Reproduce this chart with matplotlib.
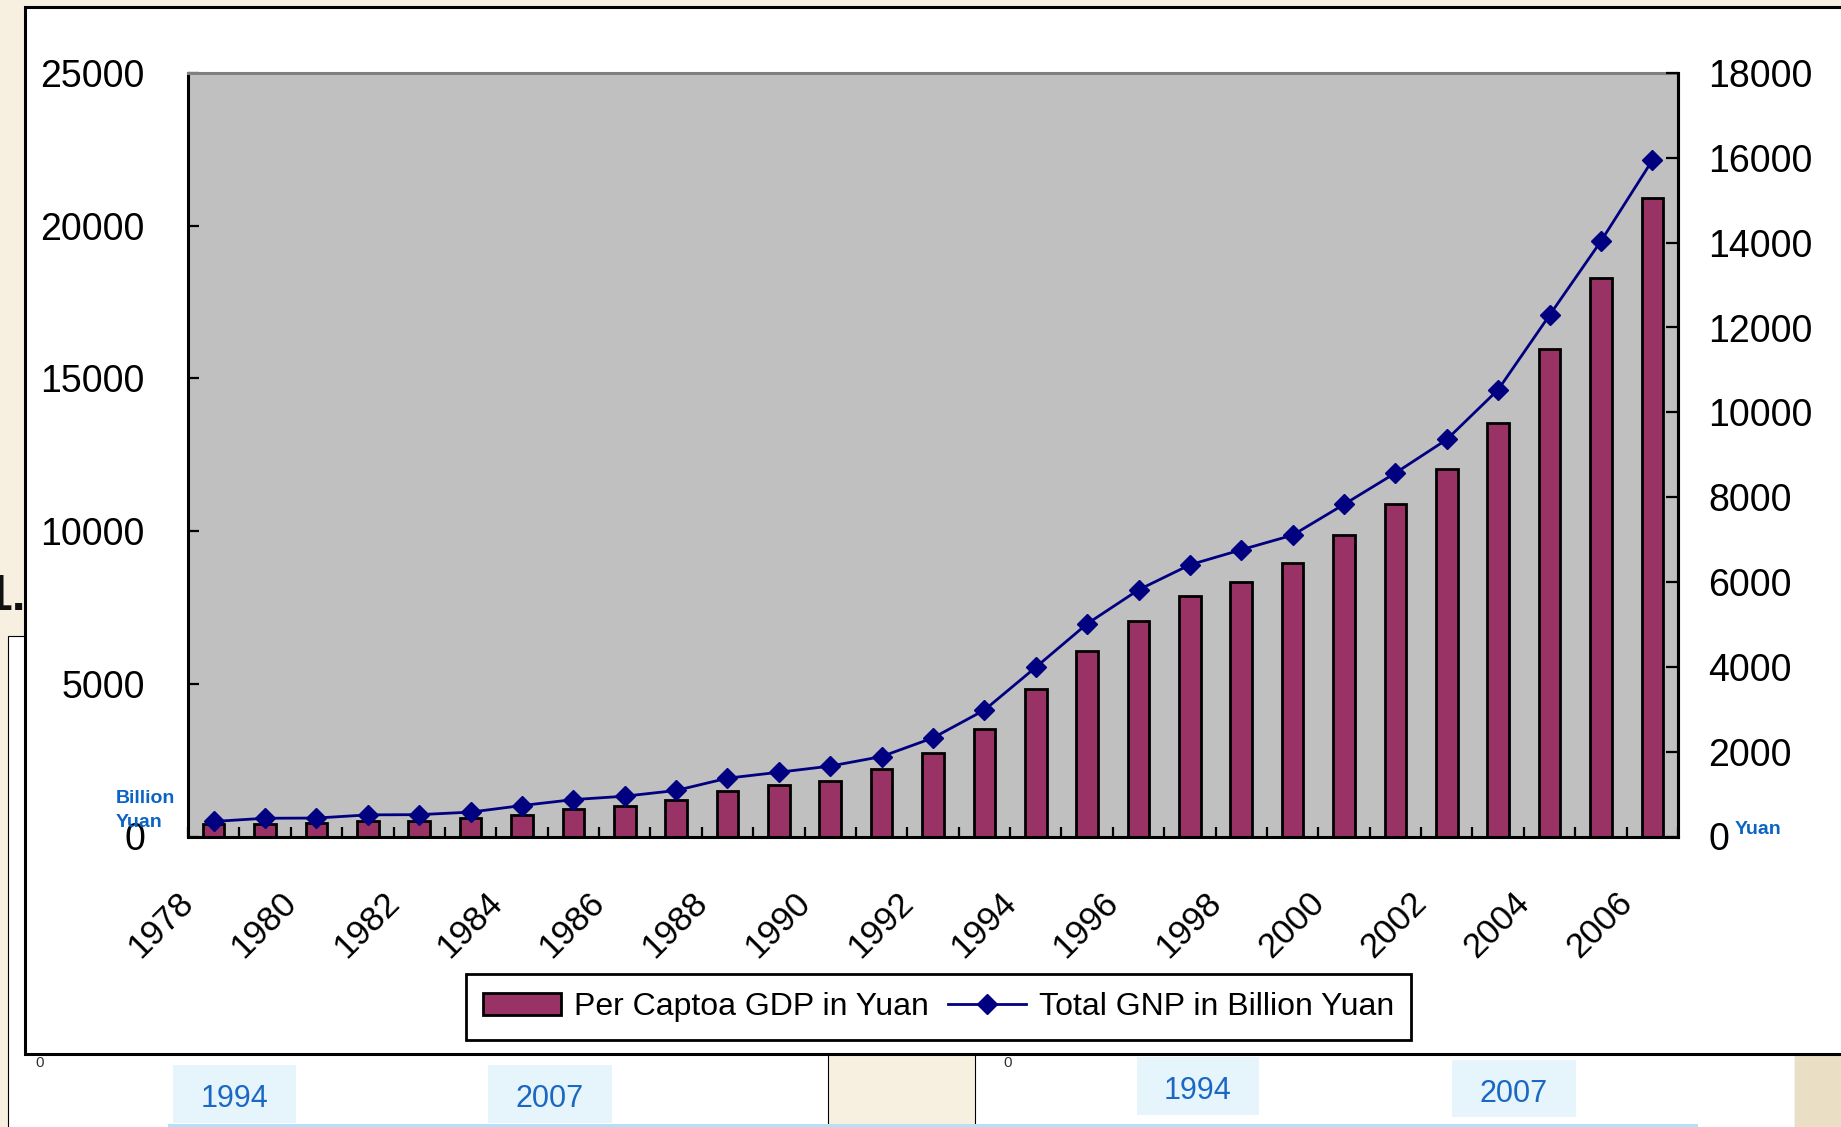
import numpy as np
import matplotlib.pyplot as plt
from matplotlib.patches import Rectangle
from matplotlib.transforms import ScaledTranslation

# data
years = list(range(1978, 2007))
bar_values = [415, 415, 435, 505, 520, 595, 720, 905, 1015, 1210, 1505, 1700, 1810,
              2215, 2730, 3525, 4835, 6060, 7060, 7860, 8345, 8970, 9885, 10895,
              12020, 13530, 15950, 18275, 20910]
line_values = [355, 430, 435, 510, 515, 575, 730, 870, 950, 1085, 1375, 1515, 1660,
               1885, 2325, 2980, 3990, 5015, 5815, 6405, 6760, 7105, 7830, 8570,
               9360, 10535, 12290, 14035, 15940]
left_ticks = [0, 5000, 10000, 15000, 20000, 25000]
right_ticks = list(range(0, 18001, 2000))
legend_labels = ["Per Captoa GDP in Yuan", "Total GNP in Billion Yuan"]
box_years = ["1994", "2007", "1994", "2007"]

plt.rcParams['font.family'] = ['Liberation Sans', 'DejaVu Sans']

W, H = 1841, 1127
fig = plt.figure(figsize=(W / 100, H / 100), dpi=100, facecolor='#F7F0E1')


def rect(x0, y0, x1, y1, **kw):
    r = Rectangle((x0 / W, 1 - y1 / H), (x1 - x0) / W, (y1 - y0) / H,
                  transform=fig.transFigure, **kw)
    fig.add_artist(r)
    return r


# background pieces of the slide
rect(7.5, 636, 828, 1140, facecolor='white', edgecolor='black', linewidth=0.8, zorder=-3)
rect(975, 900, 1795, 1140, facecolor='white', edgecolor='black', linewidth=0.8, zorder=-3)
rect(1795, 1054, 1850, 1140, facecolor='#EADFC5', edgecolor='none', zorder=-3)
rect(168, 1123.5, 1698, 1130, facecolor='#B3E2F8', edgecolor='none', zorder=-2)
boxes = [(173, 1065, 296, 1123), (488, 1065, 612, 1123),
         (1137, 1057, 1259, 1115), (1452, 1060, 1576, 1117)]
for (x0, y0, x1, y1), lab in zip(boxes, box_years):
    rect(x0, y0, x1, y1, facecolor='#E6F4FC', edgecolor='none', zorder=-2)
    fig.text((x0 + x1) / 2 / W, 1 - ((y0 + y1) / 2 + 5) / H, lab, ha='center',
             va='center', fontsize=22, color='#1A68C4')
fig.text(40 / W, 1 - 1063 / H, "0", ha='center', va='center', fontsize=11,
         color='#333333')
fig.text(1008 / W, 1 - 1063 / H, "0", ha='center', va='center', fontsize=11,
         color='#333333')
fig.text(26 / W, 1 - 610 / H, "1.", ha='right', va='baseline', fontsize=36,
         fontweight='bold', color='#111111')

# chart box
rect(24.5, 6.5, 1900, 1054, facecolor='white', edgecolor='black', linewidth=2.2, zorder=-1)

ax = fig.add_axes([188 / W, 1 - 836.5 / H, (1678 - 188) / W, (836.5 - 73) / H])
ax.set_facecolor('#C0C0C0')
x = np.arange(len(years))
bars = ax.bar(x, bar_values, width=0.42, color='#993366', edgecolor='black', linewidth=2)
ax.set_xlim(-0.5, len(years) - 0.5)
ax.set_ylim(0, 25000)
ax.set_yticks(left_ticks)
ax.set_yticklabels([str(v) for v in left_ticks])
ax.tick_params(axis='y', direction='in', length=8, width=1.6, pad=31, labelsize=27)
ax.set_xticks(x[::2])
ax.set_xticklabels([str(y) for y in years[::2]])
ax.set_xticks(np.arange(-0.5, len(years), 1), minor=True)
ax.tick_params(axis='x', which='major', length=0, pad=44, labelsize=25)
ax.tick_params(axis='x', which='minor', direction='in', length=7.5, width=1.6)
for lab in ax.get_xticklabels():
    lab.set_rotation(45)
    lab.set_ha('right')
    lab.set_va('center')
    lab.set_rotation_mode('anchor')
    lab.set_transform(lab.get_transform() + ScaledTranslation(-0.25, 0, fig.dpi_scale_trans))
for side in ['left', 'bottom', 'right']:
    ax.spines[side].set_color('black')
    ax.spines[side].set_linewidth(2.2)
ax.spines['top'].set_color('#808080')
ax.spines['top'].set_linewidth(2.2)

ax2 = ax.twinx()
line, = ax2.plot(x, line_values, color='#000080', linewidth=2, marker='D',
                 markersize=10, markeredgecolor='#000080', markerfacecolor='#000080')
ax2.set_ylim(0, 18000)
ax2.set_yticks(right_ticks)
ax2.set_yticklabels([str(v) for v in right_ticks])
ax2.tick_params(axis='y', direction='in', length=9, width=1.6, pad=22, labelsize=27)
for side in ['left', 'bottom', 'top']:
    ax2.spines[side].set_visible(False)
ax2.spines['right'].set_color('black')
ax2.spines['right'].set_linewidth(2.2)

fig.text(116 / W, 1 - 803 / H, "Billion", fontsize=14, fontweight='bold', color='#0B63C6')
fig.text(116 / W, 1 - 827 / H, "Yuan", fontsize=14, fontweight='bold', color='#0B63C6')
fig.text(1735 / W, 1 - 834 / H, "Yuan", fontsize=14, fontweight='bold', color='#0B63C6')

leg = fig.legend([bars, line], legend_labels, loc='center',
                 bbox_to_anchor=(938.5 / W, 1 - 1007 / H), ncol=2,
                 prop={'size': 23}, frameon=True, fancybox=False,
                 edgecolor='black', framealpha=1, handlelength=2.45, handleheight=0.66,
                 handletextpad=0.38, columnspacing=0.62, borderpad=0.55, borderaxespad=0)
leg.get_frame().set_linewidth(2)

fig.savefig('out.png', dpi=100, facecolor=fig.get_facecolor())
